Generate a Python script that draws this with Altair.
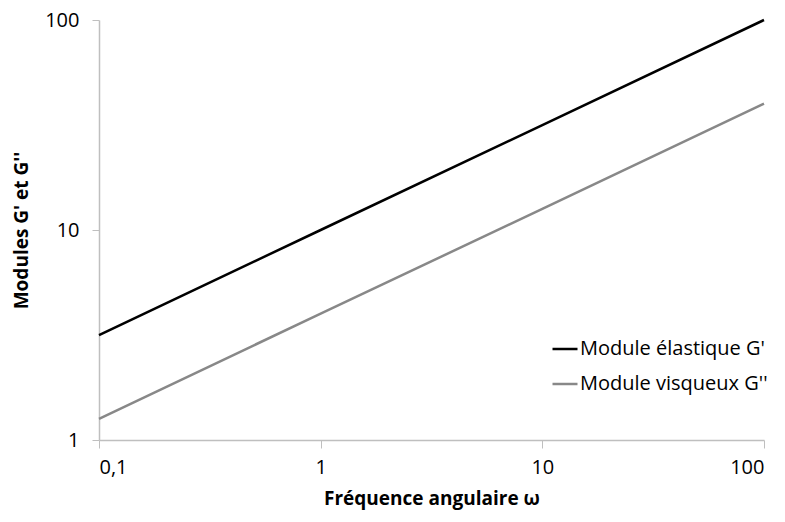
import altair as alt
import pandas as pd

freq = [0.1, 1, 10, 100]
g_elastic = [3.16, 10, 31.6, 100]
g_visqueux = [1.26, 4, 12.6, 40]
series_names = ["Module élastique G'", "Module visqueux G''"]

rows = []
for f, a, b in zip(freq, g_elastic, g_visqueux):
    rows.append({"f": f, "G": a, "s": series_names[0]})
    rows.append({"f": f, "G": b, "s": series_names[1]})
df = pd.DataFrame(rows)

FONT = "Open Sans"

chart = alt.Chart(df).mark_line(strokeWidth=2.5).encode(
    x=alt.X("f:Q", scale=alt.Scale(type="log", domain=[0.1, 100], nice=False),
            axis=alt.Axis(values=freq, title="Fréquence angulaire ω",
                          labelExpr="replace(datum.label, '.', ',')",
                          grid=False, domainColor="#BFBFBF", tickColor="#BFBFBF",
                          tickSize=8, labelPadding=9, labelFontSize=20,
                          labelColor="#000", labelFont=FONT,
                          titleFont=FONT, titleFontSize=19, titleFontWeight="bold",
                          titleColor="#000", titlePadding=12, domainWidth=1.5)),
    y=alt.Y("G:Q", scale=alt.Scale(type="log", domain=[1, 100], nice=False),
            axis=alt.Axis(values=[1, 10, 100], title="Modules G' et G''",
                          grid=False, domainColor="#BFBFBF", tickColor="#BFBFBF",
                          tickSize=7, labelPadding=13, labelFontSize=20,
                          labelColor="#000", labelFont=FONT,
                          titleFont=FONT, titleFontSize=19, titleFontWeight="bold",
                          titleColor="#000", titlePadding=13, domainWidth=1.5)),
    color=alt.Color("s:N", scale=alt.Scale(domain=series_names, range=["#000000", "#888888"]),
                    legend=alt.Legend(title=None, orient="none", legendX=452, legendY=315,
                                      symbolType="stroke", symbolSize=625,
                                      symbolStrokeWidth=2.5, labelFontSize=20,
                                      labelFont=FONT, labelColor="#000",
                                      rowPadding=11, labelOffset=1, labelLimit=300)),
).properties(
    width=665, height=420,
    autosize=alt.AutoSizeParams(type="none"),
    padding={"left": 91, "top": 12, "right": 12, "bottom": 74},
).configure_view(stroke=None)

chart.save("out.html", embed_options={"renderer": "svg", "actions": False})
